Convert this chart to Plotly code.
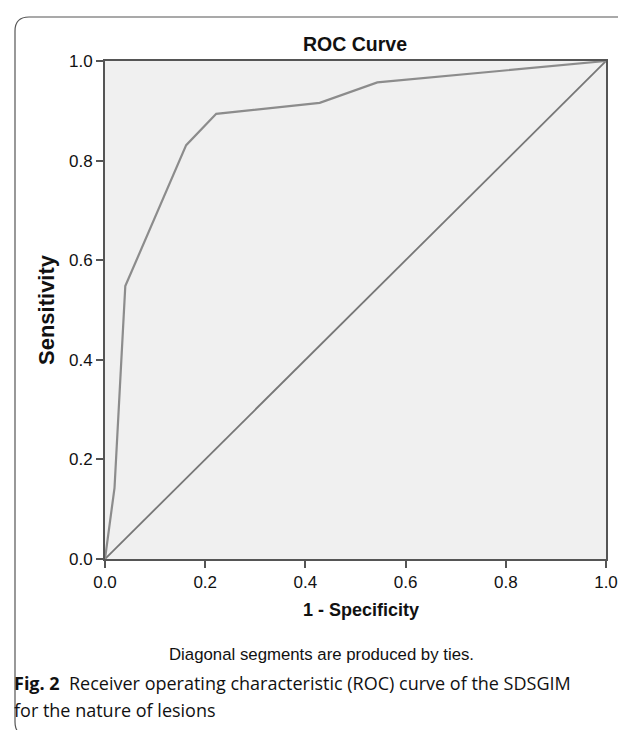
import plotly.graph_objects as go

# ROC curve data (1 - specificity, sensitivity)
fpr = [0.0, 0.019, 0.0405, 0.162, 0.222, 0.4285, 0.5436, 1.0]
tpr = [0.0, 0.143, 0.548, 0.831, 0.894, 0.916, 0.957, 1.0]
ref_x = [0.0, 1.0]
ref_y = [0.0, 1.0]
tick_vals = [0.0, 0.2, 0.4, 0.6, 0.8, 1.0]
tick_text = ["0.0", "0.2", "0.4", "0.6", "0.8", "1.0"]

W, H = 626, 730
L, R, T, B = 97, 598, 53, 551  # plot area pixel bounds


def px(x):
    return (x - L) / (R - L)


def py(y):
    return (B - y) / (B - T)


fig = go.Figure()
fig.add_trace(go.Scatter(x=ref_x, y=ref_y, mode="lines",
                         line=dict(color="#777777", width=1.8), hoverinfo="skip"))
fig.add_trace(go.Scatter(x=fpr, y=tpr, mode="lines",
                         line=dict(color="#8c8c8c", width=2.2), hoverinfo="skip"))

arial = "Liberation Sans, Arial"
axis_common = dict(range=[0, 1], tickvals=tick_vals, ticktext=tick_text,
                   showgrid=False, zeroline=False, showline=True, mirror=True,
                   linecolor="#555555", linewidth=1.8, ticks="outside", ticklen=7,
                   tickwidth=1.8, tickcolor="#555555",
                   tickfont=dict(family=arial, size=17, color="#111111"),
                   fixedrange=True)

fig.update_layout(
    width=W, height=H,
    margin=dict(l=L, r=W - R, t=T, b=H - B),
    paper_bgcolor="white", plot_bgcolor="#f0f0f0",
    showlegend=False,
    xaxis=axis_common,
    yaxis=axis_common,
)

# outer rounded frame (right side runs past the page edge)
x0, x1, y0, y1, r = 7, 660, 9, 728, 14
rx = r / (R - L)
ry = r / (B - T)
X0, X1, Y0, Y1 = px(x0), px(x1), py(y0), py(y1)
path = (f"M {X0+rx},{Y0} L {X1-rx},{Y0} Q {X1},{Y0} {X1},{Y0-ry} "
        f"L {X1},{Y1+ry} Q {X1},{Y1} {X1-rx},{Y1} "
        f"L {X0+rx},{Y1} Q {X0},{Y1} {X0},{Y1+ry} "
        f"L {X0},{Y0-ry} Q {X0},{Y0} {X0+rx},{Y0} Z")
fig.add_shape(type="path", path=path, xref="paper", yref="paper",
              line=dict(color="#555555", width=1.2), layer="below")

ann = [
    dict(text="<b>ROC Curve</b>", x=px(347), y=py(36), size=19.5, family=arial, xanchor="center"),
    dict(text="<b>1 - Specificity</b>", x=px(353), y=py(602), size=18, family=arial, xanchor="center"),
    dict(text="Diagonal segments are produced by ties.", x=px(313), y=py(646), size=16.8, family=arial, xanchor="center"),
    dict(text="<b>Fig. 2</b>  Receiver operating characteristic (ROC) curve of the SDSGIM",
         x=px(4), y=py(675), size=18, family="Open Sans", xanchor="left"),
    dict(text="for the nature of lesions", x=px(4), y=py(702), size=18, family="Open Sans", xanchor="left"),
]
for a in ann:
    fig.add_annotation(text=a["text"], x=a["x"], y=a["y"], xref="paper", yref="paper",
                       xanchor=a["xanchor"], yanchor="middle", showarrow=False,
                       font=dict(family=a["family"], size=a["size"], color="#111111"))

fig.add_annotation(text="<b>Sensitivity</b>", x=px(38), y=py(302), xref="paper", yref="paper",
                   textangle=-90, showarrow=False, xanchor="center", yanchor="middle",
                   font=dict(family=arial, size=22, color="#111111"))

fig.write_html("out.html")
